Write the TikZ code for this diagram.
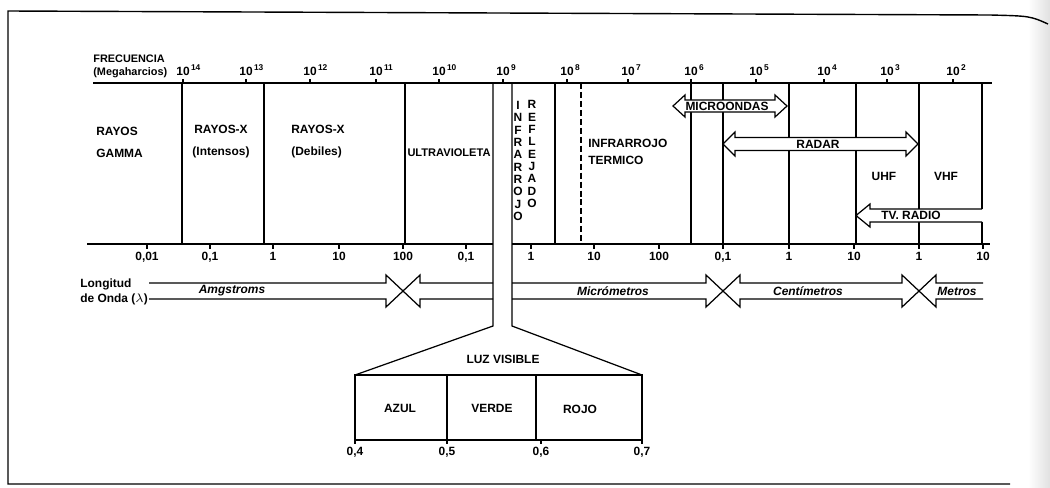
\documentclass[tikz,border=0pt]{standalone}
\usepackage{fontspec}
\setmainfont{Liberation Sans}
\usetikzlibrary{positioning}

\begin{document}
\begin{tikzpicture}[x=0.02cm, y=-0.02cm,
  font=\fontsize{6.8}{8}\selectfont\bfseries,
  ln/.style={line width=0.7pt},
  dashln/.style={line width=0.7pt, dash pattern=on 3.4pt off 1.7pt},
  barrow/.style={draw, fill=white, line width=0.7pt, line join=miter},
  band/.style={align=center, inner sep=0pt, font=\fontsize{6.8}{12.5}\selectfont\bfseries},
  vert/.style={align=center, inner sep=0pt, font=\fontsize{6.8}{7.03}\selectfont\bfseries},
  unit/.style={inner sep=0pt, font=\fontsize{6.8}{8}\selectfont\bfseries\itshape},
  num/.style={inner sep=1pt}]

\useasboundingbox (0,0) rectangle (1050,487);
% page edge and frame
\shade[left color=white, right color=black!12, draw=none] (1028,0) rectangle (1050,487);
\draw[line width=0.8pt] (1048,24) .. controls (1030,16) .. (990,15) -- (8,11) -- (8,484) -- (1010,484);

% frequency axis
\draw[ln] (93,83) -- (992,83);
\foreach \x/\e [count=\i] in {183/14,246/13,310/12,376/11,439/10,503/9,567/8,628/7,691/6,756/5,824/4,887/3,953/2}{
  \draw[ln] (\x,83) -- (\x,79);
  \node[num, anchor=south] (f\i) at (\x,78) {10\rlap{\textsuperscript{\,\e}}};
}
\node[anchor=west, align=left, inner sep=0pt, font=\fontsize{6.2}{7.4}\selectfont\bfseries] (frec) at (93,66) {FRECUENCIA\\(Megaharcios)};

% band limits
\foreach \x in {182,264,405,555,691,723,789,856}
  \draw[ln] (\x,83) -- (\x,244);
\draw[dashln] (581,83) -- (581,244);
\draw[ln] (919,83) -- (919,209) (919,222) -- (919,244);
\draw[ln] (982,83) -- (982,209) (982,222) -- (982,244);

% visible light channel and box
\draw[ln] (493,83) -- (493,326) -- (355,375);
\draw[ln] (512,83) -- (512,326) -- (642,375);
\draw[ln] (355,375) rectangle (642,440);
\draw[ln] (447,375) -- (447,440) (536,375) -- (536,440);

% wavelength axis
\draw[ln] (87,244) -- (493,244) (512,244) -- (990,244);
\foreach \x/\v [count=\i] in {147/0{,}01,210/0{,}1,273/1,339/10,403/100,466/0{,}1,531/1,594/10,659/100,723/0{,}1,789/1,854/10,919/1,983/10}{
  \draw[ln] (\x,244) -- (\x,249);
  \node[num, anchor=north] (w\i) at (\x,250) {\v};
}
\node[anchor=west, align=left, inner sep=0pt, font=\fontsize{6.8}{8.5}\selectfont\bfseries] (onda) at (80,292) {Longitud\\de Onda ($\lambda$)};

% band arrows
\path[barrow] (673,106) -- (685,95) -- (685,100) -- (775,100) -- (775,95) -- (787,106)
  -- (775,117) -- (775,112) -- (685,112) -- (685,117) -- cycle;
\path[barrow] (723,144) -- (735,132) -- (735,137.5) -- (906,137.5) -- (906,132) -- (918,144)
  -- (906,156) -- (906,150.5) -- (735,150.5) -- (735,156) -- cycle;
\path[barrow] (982,209) -- (870,209) -- (870,204) -- (856,215.5) -- (870,227) -- (870,222) -- (982,222);

% unit arrows
\draw[ln, line join=miter] (149,283) -- (386,283) -- (386,275) -- (403,291) -- (386,307) -- (386,299) -- (149,299);
\draw[ln, line join=miter] (493,283) -- (420,283) -- (420,275) -- (403,291) -- (420,307) -- (420,299) -- (493,299);
\draw[ln, line join=miter] (512,283) -- (706,283) -- (706,275) -- (723,291) -- (706,307) -- (706,299) -- (512,299);
\draw[ln, line join=miter] (723,291) -- (740,275) -- (740,283) -- (902,283) -- (902,275) -- (919,291)
  -- (902,307) -- (902,299) -- (740,299) -- (740,307) -- cycle;
\draw[ln, line join=miter] (983,283) -- (936,283) -- (936,275) -- (919,291) -- (936,307) -- (936,299) -- (983,299);

% band names
\node[band, anchor=west, align=left] (gamma) at (96,142) {RAYOS\\GAMMA};
\node[band] (xint) at (221,142) {RAYOS-X\\(Intensos)};
\node[band, anchor=west, align=left] (xdeb) at (291,142) {RAYOS-X\\(Debiles)};
\node[inner sep=0pt, font=\fontsize{6.3}{8}\selectfont\bfseries] (uv) at (449,153) {ULTRAVIOLETA};
\node[vert] (irref) at (518,161) {I\\N\\F\\R\\A\\R\\R\\O\\J\\O};
\node[vert] (refl) at (532,154) {R\\E\\F\\L\\E\\J\\A\\D\\O};
\node[band, anchor=west, align=left, font=\fontsize{6.8}{9.6}\selectfont\bfseries] (irterm) at (588,151.5) {INFRARROJO\\TERMICO};
\node[inner sep=0pt] (micro) at (727,106) {MICROONDAS};
\node[inner sep=0pt] (radar) at (818,144) {RADAR};
\node[inner sep=0pt] (uhf) at (884,176) {UHF};
\node[inner sep=0pt] (vhf) at (946,176) {VHF};
\node[inner sep=0pt] (tv) at (911,215.5) {TV. RADIO};

% unit names
\node[unit] (ang) at (232,291) {Amgstroms};
\node[unit] (mic) at (613,291) {Micrómetros};
\node[unit] (cen) at (808,291) {Centímetros};
\node[unit] (met) at (957,291) {Metros};

% visible light
\node[inner sep=0pt] (luz) at (503,359) {LUZ VISIBLE};
\node[inner sep=0pt] (azul) at (400,408) {AZUL};
\node[inner sep=0pt] (verde) at (492,408) {VERDE};
\node[inner sep=0pt] (rojo) at (580,409) {ROJO};
\foreach \x/\v [count=\i] in {355/0{,}4,447/0{,}5,541/0{,}6,642/0{,}7}{
  \draw[ln] (\x,440) -- (\x,444);
  \node[num, anchor=north] (v\i) at (\x,445) {\v};
}

\end{tikzpicture}
\end{document}
